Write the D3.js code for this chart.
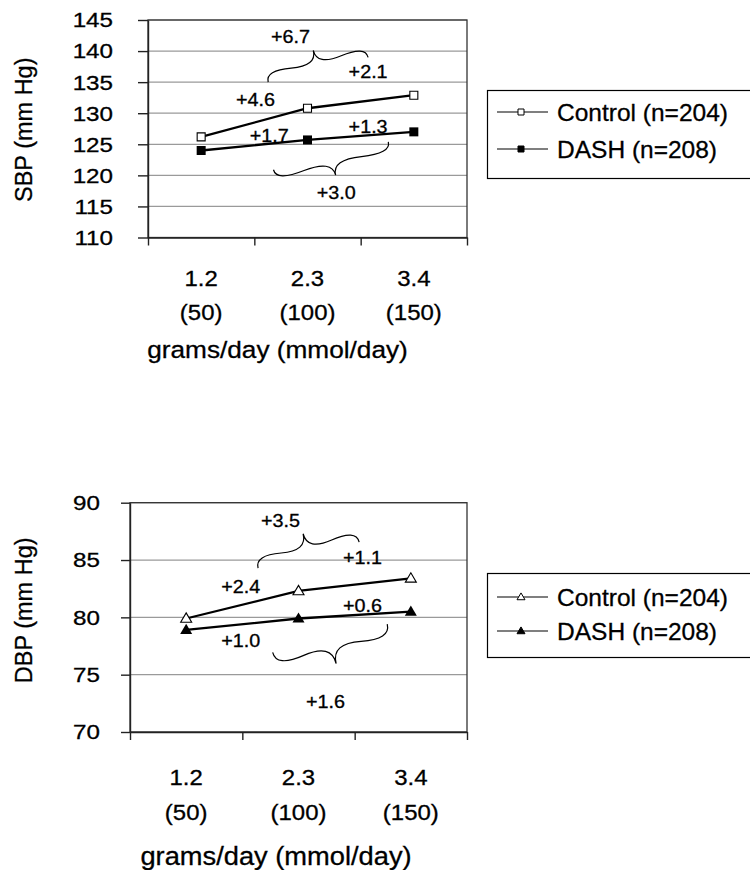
<!DOCTYPE html>
<html>
<head>
<meta charset="utf-8">
<script src="https://cdn.jsdelivr.net/npm/d3@7/dist/d3.min.js"></script>
<style>
body{margin:0;background:#fff;}
text{font-family:"Liberation Sans",Arial,Helvetica,sans-serif;fill:#000;stroke:#000;stroke-width:0.3px;}
</style>
</head>
<body>
<div id="canvas"></div>
<script>
//data
var categories = ['1.2','2.3','3.4'];
var mmolLabels = ['(50)','(100)','(150)'];
var xTitle = 'grams/day (mmol/day)';
var seriesNames = ['Control (n=204)','DASH (n=208)'];

var sbpControl = [126.2,130.8,132.9];
var sbpDash = [124.0,125.7,127.0];
var sbpTicks = [110,115,120,125,130,135,140,145];

var dbpControl = [79.9,82.3,83.4];
var dbpDash = [78.9,79.9,80.5];
var dbpTicks = [70,75,80,85,90];

//change labels, anchored at (category index, value)
var sbpNotes = [
  {t:'+6.7', i:0.84, v:141.3},
  {t:'+2.1', i:1.57, v:135.7},
  {t:'+4.6', i:0.51, v:131.2},
  {t:'+1.7', i:0.64, v:125.4},
  {t:'+1.3', i:1.57, v:126.8},
  {t:'+3.0', i:1.27, v:116.2}
];
var dbpNotes = [
  {t:'+3.5', i:0.84, v:87.9},
  {t:'+1.1', i:1.57, v:84.65},
  {t:'+2.4', i:0.485, v:82.13},
  {t:'+0.6', i:1.57, v:80.47},
  {t:'+1.0', i:0.485, v:77.42},
  {t:'+1.6', i:1.24, v:72.1}
];
//curly braces: from (i1,v1) to (i2,v2), tip to the left of travel
var sbpBraces = [
  {i1:1.57, v1:139.0, i2:0.63, v2:135.0, w:20},
  {i1:0.68, v1:120.9, i2:1.76, v2:125.4, w:20}
];
var dbpBraces = [
  {i1:1.54, v1:86.57, i2:0.64, v2:84.3, w:22},
  {i1:0.77, v1:76.95, i2:1.79, v2:79.4, w:26}
];

var W = 750, H = 870;
var svg = d3.select('#canvas')
  .append('svg')
  .attr('width', W)
  .attr('height', H);

function brace(x1,y1,x2,y2,w,q){
  var dx = x1-x2, dy = y1-y2, len = Math.sqrt(dx*dx+dy*dy);
  dx = dx/len; dy = dy/len;
  var qx1 = x1 + q*w*dy, qy1 = y1 - q*w*dx;
  var qx2 = (x1 - .25*len*dx) + (1-q)*w*dy, qy2 = (y1 - .25*len*dy) - (1-q)*w*dx;
  var tx = (x1 - .5*len*dx) + w*dy, ty = (y1 - .5*len*dy) - w*dx;
  var qx3 = x2 + q*w*dy, qy3 = y2 - q*w*dx;
  var qx4 = (x1 - .75*len*dx) + (1-q)*w*dy, qy4 = (y1 - .75*len*dy) - (1-q)*w*dx;
  return 'M'+x1+','+y1+' Q'+qx1+','+qy1+' '+qx2+','+qy2+' T'+tx+','+ty+
    ' M'+x2+','+y2+' Q'+qx3+','+qy3+' '+qx4+','+qy4+' T'+tx+','+ty;
}

//text squeezed/stretched sideways like the scanned figure
function label(g, str, x, y, size, sx, anchor){
  return g.append('text')
    .attr('transform','translate('+x+','+y+') scale('+sx+',1)')
    .attr('text-anchor', anchor)
    .style('font-size', size+'px')
    .text(str);
}

function square(s){
  return 'M'+(-s/2)+','+(-s/2)+'h'+s+'v'+s+'h'+(-s)+'Z';
}
function triangle(s){
  var h = s*0.85;
  return 'M0,'+(-h*0.6)+'L'+(s/2)+','+(h*0.4)+'L'+(-s/2)+','+(h*0.4)+'Z';
}

function drawPanel(c){
  var g = svg.append('g');

  var x = d3.scaleLinear().domain([0,3]).range([c.l, c.r]);
  var y = d3.scaleLinear().domain(c.domain).range([c.b, c.t]);

  //gridlines
  g.selectAll('.grid')
    .data(c.ticks)
    .enter()
    .append('line')
    .attr('x1', c.l).attr('x2', c.r)
    .attr('y1', function(d){ return y(d); })
    .attr('y2', function(d){ return y(d); })
    .attr('stroke', '#9a9a9a')
    .attr('stroke-width', 1.2);

  g.append('rect')
    .attr('x', c.l).attr('y', c.t)
    .attr('width', c.r-c.l).attr('height', c.b-c.t)
    .attr('fill', 'none')
    .attr('stroke', '#333')
    .attr('stroke-width', 1.3);

  var axisY = d3.axisLeft(y)
    .tickValues(c.ticks)
    .tickSize(c.tick)
    .tickSizeOuter(0)
    .tickFormat('');
  g.append('g')
    .attr('transform','translate('+c.l+',0)')
    .call(axisY)
    .call(function(a){ a.selectAll('path,line').attr('stroke','#222').attr('stroke-width',1.4); });

  var axisX = d3.axisBottom(x)
    .tickValues([0,1,2,3])
    .tickSize(8)
    .tickSizeOuter(0)
    .tickFormat('');
  g.append('g')
    .attr('transform','translate(0,'+c.b+')')
    .call(axisX)
    .call(function(a){ a.selectAll('path,line').attr('stroke','#222').attr('stroke-width',1.4); });

  //tick labels
  c.ticks.forEach(function(d){
    label(g, d, c.l - c.labelGap, y(d), 20.5, 1.18, 'end').attr('dy','0.36em');
  });
  categories.forEach(function(d,i){
    label(g, d, x(i+0.5), c.b + c.x1, 21.4, 1.12, 'middle');
    label(g, mmolLabels[i], x(i+0.5), c.b + c.x2, 21.4, 1.12, 'middle');
  });
  label(g, xTitle, c.titleX, c.b + c.x3, c.titleSize, 1.07, 'middle');

  g.append('text')
    .attr('transform','translate(32,'+((c.t+c.b)/2 + c.yTitleShift)+') rotate(-90)')
    .attr('text-anchor','middle')
    .style('font-size','23.5px')
    .text(c.yTitle);

  //series
  var line = d3.line()
    .x(function(d,i){ return x(i+0.5); })
    .y(function(d){ return y(d); });

  [c.control, c.dash].forEach(function(s){
    g.append('path')
      .attr('d', line(s))
      .attr('fill','none')
      .attr('stroke','#000')
      .attr('stroke-width',2.3);
  });

  g.selectAll('.ctl')
    .data(c.control)
    .enter()
    .append('path')
    .attr('transform', function(d,i){ return 'translate('+x(i+0.5)+','+y(d)+')'; })
    .attr('d', c.shape(c.mSize))
    .attr('fill','#fff')
    .attr('stroke','#000')
    .attr('stroke-width',1.1);

  g.selectAll('.dash')
    .data(c.dash)
    .enter()
    .append('path')
    .attr('transform', function(d,i){ return 'translate('+x(i+0.5)+','+y(d)+')'; })
    .attr('d', c.shape(c.mSize+1))
    .attr('fill','#000');

  //annotations
  c.notes.forEach(function(n){
    label(g, n.t, x(n.i+0.5), y(n.v), 17.5, 1.13, 'middle');
  });
  c.braces.forEach(function(b){
    g.append('path')
      .attr('d', brace(x(b.i1+0.5), y(b.v1), x(b.i2+0.5), y(b.v2), b.w, 0.6))
      .attr('fill','none')
      .attr('stroke','#000')
      .attr('stroke-width',1.2);
  });

  //legend
  var lg = g.append('g');
  lg.append('rect')
    .attr('x', 487.5).attr('y', c.legY)
    .attr('width', 280).attr('height', c.legH)
    .attr('fill','#fff')
    .attr('stroke','#000')
    .attr('stroke-width',1.2);
  seriesNames.forEach(function(name,i){
    var ry = c.legRows[i];
    lg.append('line')
      .attr('x1',497).attr('x2',548)
      .attr('y1',ry).attr('y2',ry)
      .attr('stroke','#000')
      .attr('stroke-width',1.2);
    lg.append('path')
      .attr('transform','translate(521,'+ry+')')
      .attr('d', c.shape(c.legM))
      .attr('fill', i === 0 ? '#fff' : '#000')
      .attr('stroke','#000')
      .attr('stroke-width',1);
    lg.append('text')
      .attr('x',557).attr('y',ry)
      .attr('dy','0.36em')
      .style('font-size','24.5px')
      .text(name);
  });
}

drawPanel({
  l:148, r:467, t:20, b:237.5,
  domain:[110,145], ticks:sbpTicks, tick:10, labelGap:35,
  x1:48.5, x2:82.5, x3:120.5, titleX:277.5, titleSize:24.5,
  yTitle:'SBP (mm Hg)', yTitleShift:1,
  control:sbpControl, dash:sbpDash, shape:square, mSize:8, legM:6,
  notes:sbpNotes, braces:sbpBraces,
  legY:90.5, legH:88, legRows:[112,149]
});

drawPanel({
  l:130, r:467, t:502.7, b:732,
  domain:[70,90], ticks:dbpTicks, tick:9, labelGap:30,
  x1:53, x2:88, x3:133, titleX:276, titleSize:25.5,
  yTitle:'DBP (mm Hg)', yTitleShift:-7,
  control:dbpControl, dash:dbpDash, shape:triangle, mSize:11, legM:8,
  notes:dbpNotes, braces:dbpBraces,
  legY:573.5, legH:84, legRows:[597,631]
});
</script>
</body>
</html>
